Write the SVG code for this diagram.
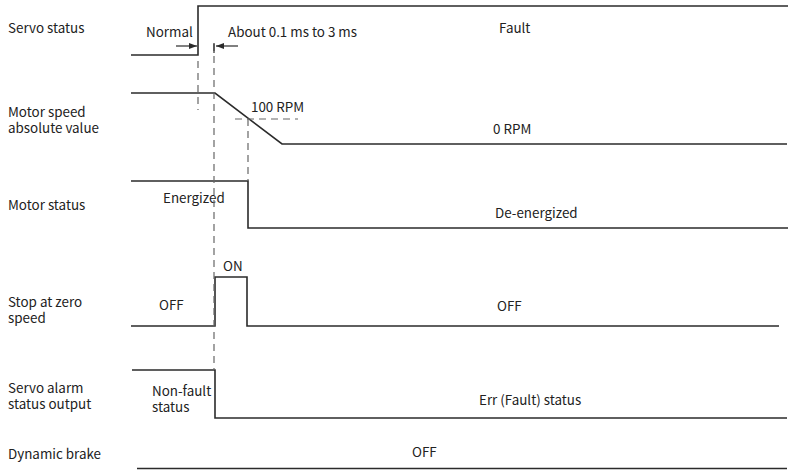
<svg xmlns="http://www.w3.org/2000/svg" width="789" height="471" viewBox="0 0 789 471">
<defs>
<style>
text{font-family:"Noto Sans CJK SC","Source Han Sans","Noto Sans",sans-serif;font-size:13.4px;fill:#222}
.sig{fill:none;stroke:#2b2b2b;stroke-width:1.6}
.dash{fill:none;stroke:#666;stroke-width:1.2;stroke-dasharray:7 5}
.arr{fill:none;stroke:#2b2b2b;stroke-width:1.2}
</style>
<marker id="ah" viewBox="0 0 8 6" refX="8" refY="3" markerWidth="8" markerHeight="6" markerUnits="userSpaceOnUse" orient="auto">
<path d="M0,0 L8,3 L0,6 Z" fill="#2b2b2b"/>
</marker>
</defs>
<rect width="789" height="471" fill="#fff"/>

<g id="servo-status">
<text x="8" y="33">Servo status</text>
<polyline class="sig" points="131,55 198,55 198,6 788,6"/>
<text x="146" y="37">Normal</text>
<text x="228" y="37">About 0.1 ms to 3 ms</text>
<text x="499" y="33">Fault</text>
</g>

<g id="motor-speed">
<text x="8" y="117">Motor speed</text>
<text x="8" y="133">absolute value</text>
<polyline class="sig" points="131,93 215,93 282,144 787,144"/>
<text x="251" y="112">100 RPM</text>
<text x="493" y="134">0 RPM</text>
</g>

<g id="motor-status">
<text x="8" y="210">Motor status</text>
<polyline class="sig" points="131,181 248,181 248,228 788,228"/>
<text x="163" y="203">Energized</text>
<text x="495" y="218">De-energized</text>
</g>

<g id="stop-zero-speed">
<text x="8" y="307">Stop at zero</text>
<text x="8" y="323">speed</text>
<polyline class="sig" points="131,326 215,326 215,277 247,277 247,326 779,326"/>
<text x="223" y="271">ON</text>
<text x="159" y="310">OFF</text>
<text x="497" y="311">OFF</text>
</g>

<g id="servo-alarm">
<text x="8" y="393">Servo alarm</text>
<text x="8" y="409">status output</text>
<polyline class="sig" points="132,370 215,370 215,418 787,418"/>
<text x="152" y="396">Non-fault</text>
<text x="152" y="412">status</text>
<text x="479" y="405">Err (Fault) status</text>
</g>

<g id="dynamic-brake">
<text x="8" y="459">Dynamic brake</text>
<line class="sig" x1="137" y1="468.5" x2="787" y2="468.5"/>
<text x="412" y="457">OFF</text>
</g>

<g id="connectors">
<line class="dash" x1="198" y1="61" x2="198" y2="110"/>
<line class="dash" x1="214" y1="44" x2="214" y2="370"/>
<line class="dash" x1="248" y1="119" x2="248" y2="181"/>
<line class="dash" x1="235" y1="119" x2="298" y2="119"/>
<line class="arr" x1="176" y1="46" x2="197" y2="46" marker-end="url(#ah)"/>
<line class="arr" x1="238" y1="46" x2="216" y2="46" marker-end="url(#ah)"/>
<line class="arr" x1="214" y1="43" x2="214" y2="53"/>
</g>
</svg>
